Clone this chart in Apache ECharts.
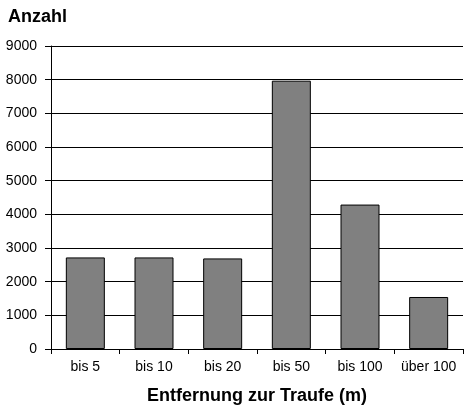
<!DOCTYPE html>
<html>
<head>
<meta charset="utf-8">
<script src="https://cdn.jsdelivr.net/npm/echarts@6/dist/echarts.min.js"></script>
<style>
  html, body { margin: 0; padding: 0; background: #fff; }
  #chart { width: 464px; height: 407px; }
</style>
</head>
<body>
<div id="chart"></div>
<script>
  const categories = ['bis 5', 'bis 10', 'bis 20', 'bis 50', 'bis 100', 'über 100'];
  const counts = [2720, 2720, 2690, 7970, 4290, 1545];
  const yTicks = { min: 0, max: 9000, interval: 1000 };

  const font = 'Liberation Sans, Arial, sans-serif';
  const chart = echarts.init(document.getElementById('chart'));
  chart.setOption({
    animation: false,
    title: {
      text: 'Anzahl',
      left: 8, top: 8, padding: 0,
      textStyle: { fontFamily: font, fontSize: 18, fontWeight: 'bold', color: '#000' }
    },
    grid: { left: 51, right: 1, top: 46, bottom: 58, outerBoundsMode: 'none', containLabel: false },
    xAxis: {
      type: 'category',
      data: categories,
      name: 'Entfernung zur Traufe (m)',
      nameLocation: 'middle',
      nameGap: 38,
      nameTextStyle: { fontFamily: font, fontSize: 18, fontWeight: 'bold', color: '#000' },
      axisLine: { lineStyle: { color: '#000', width: 1 } },
      axisTick: { show: true, length: 5, lineStyle: { color: '#000' } },
      axisLabel: { fontFamily: font, fontSize: 14, color: '#000', margin: 11, interval: 0 }
    },
    yAxis: {
      type: 'value',
      min: yTicks.min, max: yTicks.max, interval: yTicks.interval,
      axisLine: { show: true, lineStyle: { color: '#000', width: 1 } },
      axisTick: { show: true, length: 6, lineStyle: { color: '#000' } },
      axisLabel: { fontFamily: font, fontSize: 14, color: '#000', margin: 14, formatter: v => String(v) },
      splitLine: { lineStyle: { color: '#000', width: 1 } }
    },
    series: [{
      type: 'bar',
      data: counts,
      barWidth: 39,
      itemStyle: { color: '#808080', borderColor: '#000', borderWidth: 1 }
    }]
  });
</script>
</body>
</html>
